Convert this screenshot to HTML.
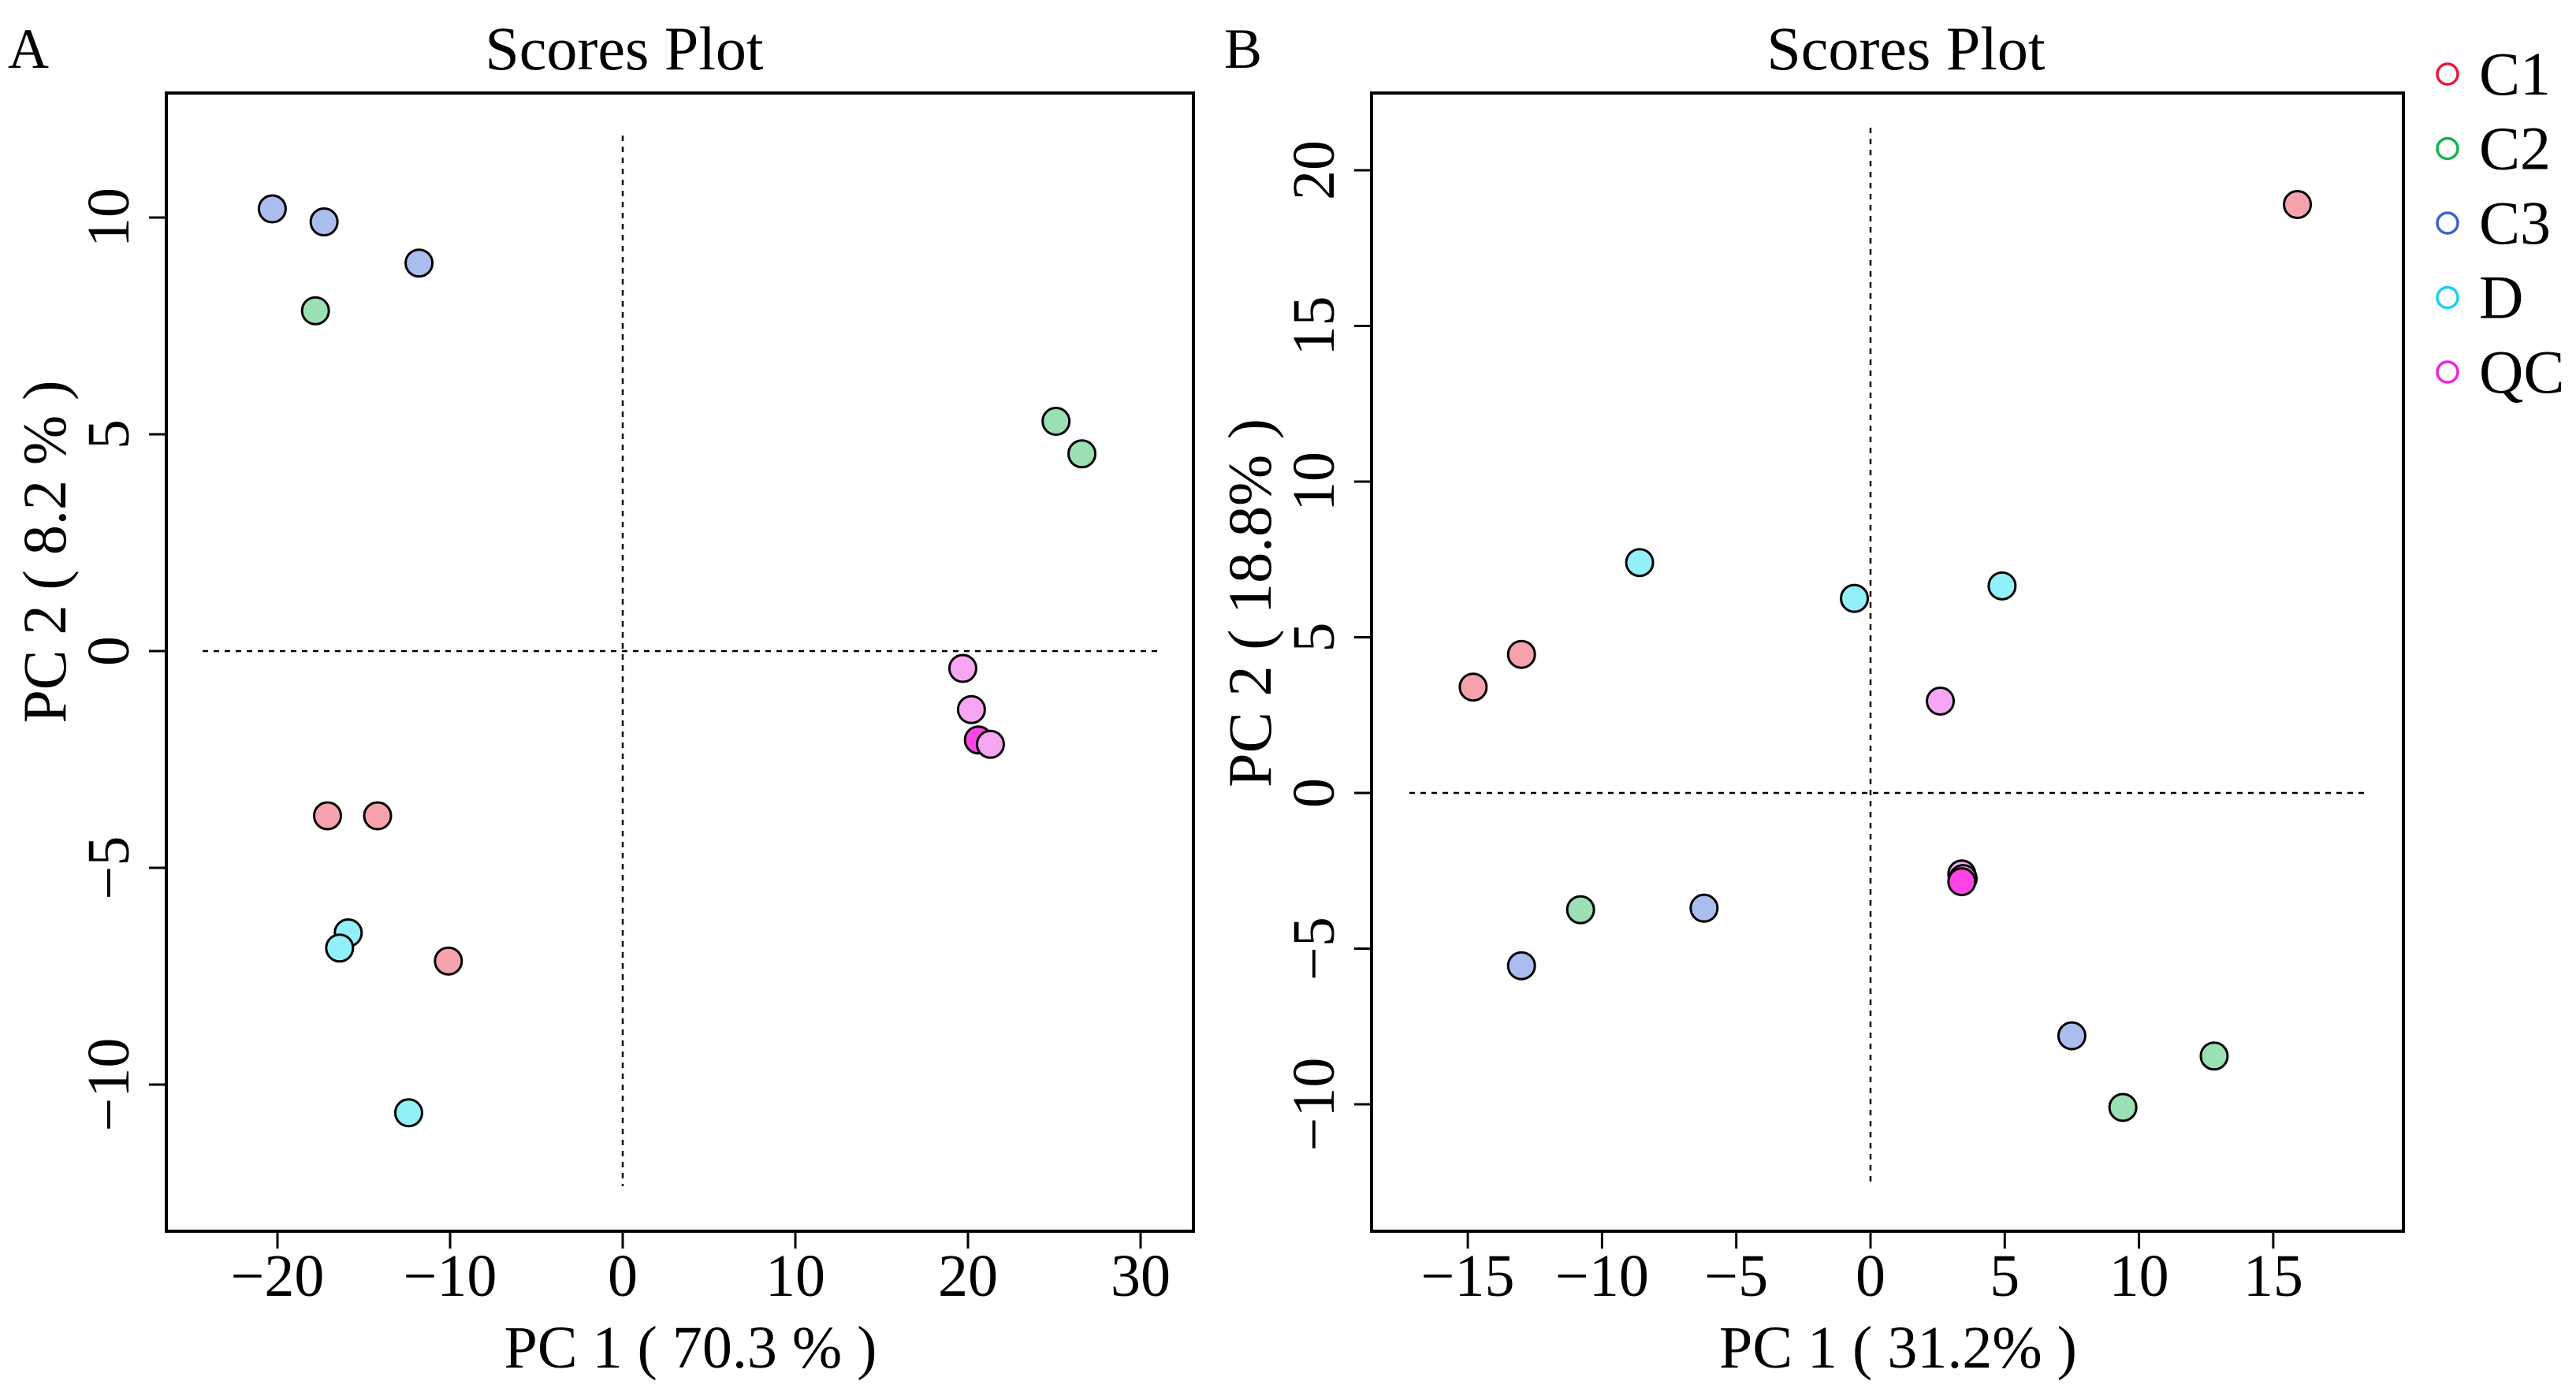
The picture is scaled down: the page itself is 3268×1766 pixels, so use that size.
<!DOCTYPE html>
<html><head><meta charset="utf-8"><style>
html,body{margin:0;padding:0;background:#fff;}
svg{display:block;}
text{font-family:"Liberation Serif",serif;fill:#000;}
</style></head><body>
<svg id="chart" width="3268" height="1766" viewBox="0 0 3268 1766" xmlns="http://www.w3.org/2000/svg"></svg>
<script>
// ---- Panel A data ----
const aGroups = ["C3","C3","C3","C2","C2","C2","QC","QC","QC","QC","C1","C1","C1","D","D","D"];
const aPC1 = [-20.3,-17.3,-11.8,-17.8,25.1,26.6,19.7,20.2,20.6,21.3,-17.1,-14.2,-10.1,-15.9,-16.4,-12.4];
const aPC2 = [10.2,9.9,8.95,7.85,5.3,4.55,-0.4,-1.35,-2.05,-2.15,-3.8,-3.8,-7.15,-6.5,-6.85,-10.65];
const aXTicks = [-20,-10,0,10,20,30];
const aYTicks = [-10,-5,0,5,10];
// ---- Panel B data ----
const bGroups = ["C1","C1","C1","D","D","D","QC","QC","QC","QC","C2","C2","C2","C3","C3","C3"];
const bPC1 = [15.9,-14.8,-13.0,-8.6,-0.6,4.9,2.6,3.4,3.45,3.4,-10.8,9.4,12.8,-13.0,-6.2,7.5];
const bPC2 = [18.9,3.4,4.45,7.4,6.25,6.65,2.95,-2.6,-2.75,-2.85,-3.75,-10.1,-8.45,-5.55,-3.7,-7.8];
const bXTicks = [-15,-10,-5,0,5,10,15];
const bYTicks = [-10,-5,0,5,10,15,20];
// ---- legend ----
const legendLabels = ["C1","C2","C3","D","QC"];

const fills = {C1:"#f5a2ad",C2:"#9ae0b4",C3:"#abbdee",D:"#92f0f8",QC:"#f7a6f3"};
const legendColors = {C1:"#e8183c",C2:"#14b450",C3:"#3a60d8",D:"#18d0f0",QC:"#f020e0"};

const NS="http://www.w3.org/2000/svg";
const svg=document.getElementById('chart');
function mk(tag,attrs,parent){const e=document.createElementNS(NS,tag);for(const k in attrs)e.setAttribute(k,attrs[k]);(parent||svg).appendChild(e);return e;}
function fmt(v){return v<0?"\u2212"+Math.abs(v):String(v);}

function panel(cfg){
  const g=mk('g',{});
  
  
  const sx=v=>cfg.x0+v*cfg.xs, sy=v=>cfg.y0-v*cfg.ys;
  const box=mk('rect',{x:cfg.L,y:cfg.T,width:cfg.R-cfg.L,height:cfg.B-cfg.T,fill:'none',stroke:'#000','stroke-width':4},g);
  
  
  const vl=mk('line',{x1:sx(0),x2:sx(0),y1:cfg.vT,y2:cfg.vB,stroke:'#000','stroke-width':2.5,'stroke-dasharray':'7,7'},g);
  
  
  const hl=mk('line',{x1:cfg.hL,x2:cfg.hR,y1:sy(0),y2:sy(0),stroke:'#000','stroke-width':2.5,'stroke-dasharray':'7,7'},g);
  
  
  cfg.xt.forEach(v=>{
    const t=mk('line',{x1:sx(v),x2:sx(v),y1:cfg.B,y2:cfg.B+22,stroke:'#000','stroke-width':3},g);
    
    
    const l=mk('text',{x:sx(v),y:cfg.B+82,'font-size':76,'text-anchor':'middle'},g);
    l.textContent=fmt(v);
    
    
  });
  cfg.yt.forEach(v=>{
    const t=mk('line',{x1:cfg.L-22,x2:cfg.L,y1:sy(v),y2:sy(v),stroke:'#000','stroke-width':3},g);
    
    
    const lx=cfg.L-48;
    const l=mk('text',{x:lx,y:sy(v),'font-size':76,'text-anchor':'middle',transform:`rotate(-90 ${lx} ${sy(v)})`},g);
    l.textContent=fmt(v);
    
    
  });
  const ttl=mk('text',{x:cfg.titleX,y:88,'font-size':78,'text-anchor':'middle'},g);
  ttl.textContent="Scores Plot";
  
  
  const xl=mk('text',{x:cfg.xlabX,y:1735,'font-size':76,'text-anchor':'middle'},g);
  xl.textContent=cfg.xlab;
  
  
  const yx=cfg.L-128, yy=cfg.ylabY;
  const yl=mk('text',{x:yx,y:yy,'font-size':78,'text-anchor':'middle',textLength:cfg.ylabLen,lengthAdjust:'spacingAndGlyphs',transform:`rotate(-90 ${yx} ${yy})`},g);
  yl.textContent=cfg.ylab;
  
  
  const pl=mk('text',{x:cfg.letterX,y:86,'font-size':72},g);
  pl.textContent=cfg.letter;
  
  
  cfg.px.forEach((v,i)=>{
    const grp=cfg.groups[i];
    let f=fills[grp];
    if(grp==="QC" && i===cfg.darkQC) f="#ff44e6";
    const c=mk('circle',{cx:sx(v),cy:sy(cfg.py[i]),r:17,fill:f,stroke:'#000','stroke-width':3},g);
    
    
  });
}

panel({name:'panel-a',L:211,R:1514,T:118,B:1562,x0:790,xs:21.9,y0:826,ys:55,
  vT:172,vB:1505,hL:257,hR:1470,xt:aXTicks,yt:aYTicks,px:aPC1,py:aPC2,groups:aGroups,darkQC:8,
  xlab:"PC 1 ( 70.3 % )",ylab:"PC 2 ( 8.2 % )",letter:"A",letterX:10,
  titleX:792,xlabX:876,ylabY:700,ylabLen:435});
panel({name:'panel-b',L:1740,R:3049,T:118,B:1562,x0:2373,xs:34.06,y0:1006,ys:39.5,
  vT:162,vB:1505,hL:1788,hR:3003,xt:bXTicks,yt:bYTicks,px:bPC1,py:bPC2,groups:bGroups,darkQC:9,
  xlab:"PC 1 ( 31.2% )",ylab:"PC 2 ( 18.8% )",letter:"B",letterX:1553,
  titleX:2418,xlabX:2408,ylabY:765,ylabLen:468});

const lg=mk('g',{});


legendLabels.forEach((lab,i)=>{
  const y=94+i*94.5;
  const c=mk('circle',{cx:3105,cy:y,r:13,fill:'none',stroke:legendColors[lab],'stroke-width':3.5},lg);
  
  
  const t=mk('text',{x:3145,y:y+26,'font-size':78},lg);
  t.textContent=lab;
  
  
});
</script>
</body></html>
